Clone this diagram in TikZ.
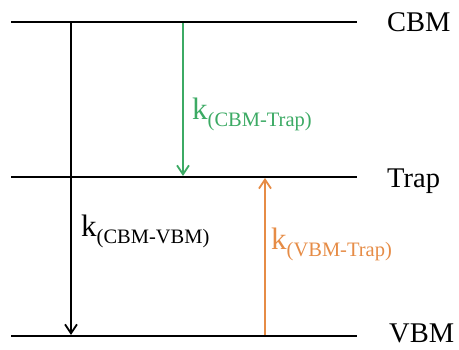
\documentclass[tikz,border=0pt]{standalone}
\usepackage{fontspec}
\setmainfont{Liberation Serif}
\usetikzlibrary{arrows.meta}
\definecolor{kgreen}{RGB}{60,170,100}
\definecolor{korange}{RGB}{230,140,70}
\newcommand{\ksub}[1]{k\raisebox{-7pt}{\fontsize{20.5}{24}\selectfont #1}}
\begin{document}
\begin{tikzpicture}[x=1pt,y=1pt,
  level/.style={line width=2.6pt},
  arr/.style={line width=1.8pt,-{Straight Barb[length=9pt,width=12pt]}},
  lab/.style={font=\fontsize{28.5}{32}\selectfont,inner sep=0pt,anchor=base west},
  klab/.style={font=\fontsize{31}{34}\selectfont,inner sep=0pt,anchor=base west}]
\useasboundingbox (0,0) rectangle (459,350);
\coordinate (c1) at (11,328);
\coordinate (c2) at (357,328);
\coordinate (t1) at (11,173);
\coordinate (t2) at (357,173);
\coordinate (v1) at (11,14);
\coordinate (v2) at (357,14);
\draw[level] (c1) -- (c2);
\draw[level] (t1) -- (t2);
\draw[level] (v1) -- (v2);
\node[lab] (cbm) at (387,318) {CBM};
\node[lab] (trap) at (387,162) {Trap};
\node[lab] (vbm) at (389,7) {VBM};
\coordinate (a1) at (71,327);
\coordinate (a2) at (71,15);
\coordinate (g1) at (183,327);
\coordinate (g2) at (183,174);
\coordinate (o1) at (265,15);
\coordinate (o2) at (265,172);
\draw[arr] (a1) -- (a2);
\draw[arr,kgreen] (g1) -- (g2);
\draw[arr,korange] (o1) -- (o2);
\node[klab,text=kgreen] (kg) at (192,230) {\ksub{(CBM-Trap)}};
\node[klab] (kb) at (81,113) {\ksub{(CBM-VBM)}};
\node[klab,text=korange] (ko) at (271,100) {\ksub{(VBM-Trap)}};
\end{tikzpicture}
\end{document}
